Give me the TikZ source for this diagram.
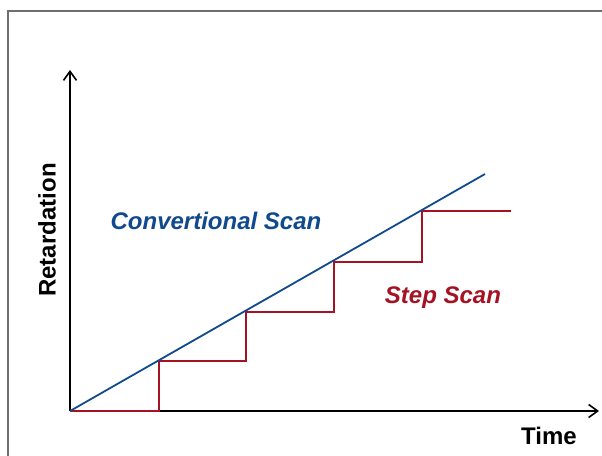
\documentclass[tikz,border=0pt]{standalone}
\usepackage{fontspec}
\setmainfont{Liberation Sans}
\usetikzlibrary{arrows.meta}
\definecolor{scanblue}{RGB}{16,74,140}
\definecolor{scanred}{RGB}{165,18,35}
\definecolor{framegray}{RGB}{110,110,110}
\tikzset{
  axis/.style={line width=2pt, -{Straight Barb[length=9pt,width=13pt,line width=1.6pt]}},
  conv/.style={draw=scanblue, line width=1.8pt},
  stepline/.style={draw=scanred, line width=1.8pt},
  lbl/.style={font=\fontsize{24}{28}\selectfont\bfseries, inner sep=0pt}
}
\begin{document}
\begin{tikzpicture}[x=1pt,y=-1pt]
\useasboundingbox (0,0) rectangle (602,455);
\begin{scope}
\clip (0,0) rectangle (602,455);
\draw[framegray, line width=2pt] (7.5,470) -- (7.5,10.5) -- (620,10.5);
\end{scope}
\coordinate (O) at (70,411);
\coordinate (ytip) at (70,70);
\coordinate (xtip) at (599,411);
\coordinate (cend) at (485,174);
\draw[axis] (O) -- (ytip);
\draw[axis] (O) -- (xtip);
\draw[stepline] (O) -- (159,411) -- (159,361) -- (246,361) -- (246,312) -- (334,312) -- (334,262) -- (422,262) -- (422,211) -- (511,211);
\draw[conv] (O) -- (cend);
\node[lbl, text=scanblue] (convlbl) at (216,221) {\itshape Convertional Scan};
\node[lbl, text=scanred] (steplbl) at (443,298) {\itshape Step Scan};
\node[lbl, rotate=90] (ylbl) at (47,230) {Retardation};
\node[lbl] (xlbl) at (549,436) {Time};
\end{tikzpicture}
\end{document}
